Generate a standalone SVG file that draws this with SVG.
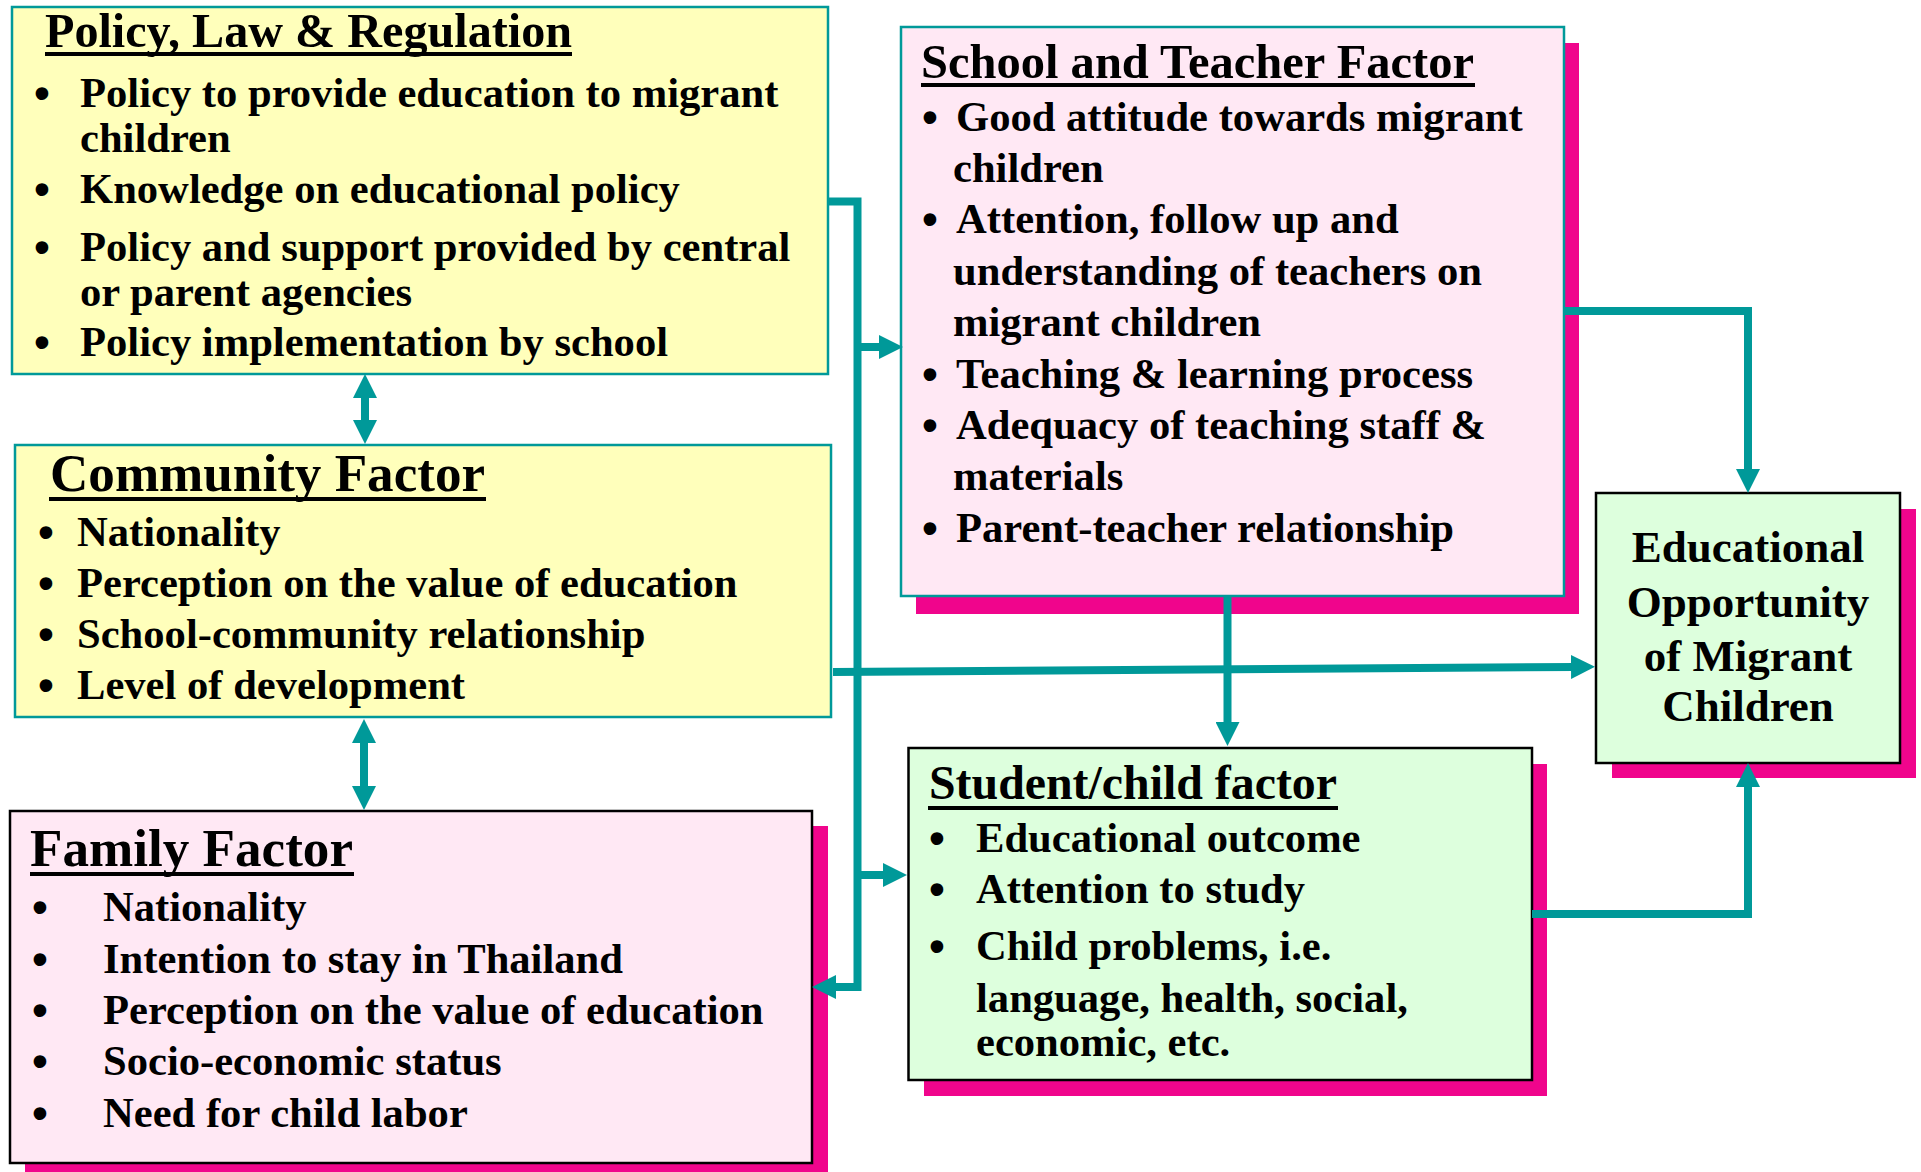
<svg xmlns="http://www.w3.org/2000/svg" width="1921" height="1172" viewBox="0 0 1921 1172">
<style>
text{font-family:"Liberation Serif","Times New Roman",serif;font-weight:bold;fill:#000}
.b{font-size:42.6px}
.bul{font-size:44px;text-anchor:middle;font-family:"Liberation Sans",Arial,sans-serif}
.t48{font-size:48px}
.t53{font-size:53px}
.edu{font-size:45px;text-anchor:middle}
.yel{fill:#FFFFBB;stroke:#009999;stroke-width:2.5}
.pinkT{fill:#FFE8F4;stroke:#009999;stroke-width:2.5}
.pinkK{fill:#FFE8F4;stroke:#000;stroke-width:2.5}
.grn{fill:#DDFFDD;stroke:#000;stroke-width:2.5}
.sh{fill:#F0058C}
.ul{stroke:#000;stroke-width:4}
.c{fill:none;stroke:#009999;stroke-width:8}
</style>
<defs>
<marker id="ah" markerUnits="userSpaceOnUse" markerWidth="24" markerHeight="24" refX="4" refY="12" orient="auto-start-reverse" viewBox="0 0 24 24">
<path d="M0,0 L24,12 L0,24 z" fill="#009999"/>
</marker>
</defs>
<rect width="1921" height="1172" fill="#fff"/>

<g id="policy">
<rect class="yel" x="12" y="7" width="816" height="367"/>
<text class="t48" x="45" y="47" textLength="527" lengthAdjust="spacingAndGlyphs">Policy, Law &amp; Regulation</text>
<line class="ul" x1="45" y1="54" x2="572" y2="54"/>
<text class="bul" x="42" y="108">•</text>
<text class="b" x="80" y="107">Policy to provide education to migrant</text>
<text class="b" x="80" y="152">children</text>
<text class="bul" x="42" y="204">•</text>
<text class="b" x="80" y="203">Knowledge on educational policy</text>
<text class="bul" x="42" y="262">•</text>
<text class="b" x="80" y="261">Policy and support provided by central</text>
<text class="b" x="80" y="306">or parent agencies</text>
<text class="bul" x="42" y="357">•</text>
<text class="b" x="80" y="356">Policy implementation by school</text>
</g>

<g id="community">
<rect class="yel" x="15" y="445" width="816" height="272"/>
<text class="t53" x="50" y="491" textLength="435" lengthAdjust="spacingAndGlyphs">Community Factor</text>
<line class="ul" x1="49" y1="499" x2="486" y2="499"/>
<text class="bul" x="46" y="547">•</text>
<text class="b" x="77" y="546">Nationality</text>
<text class="bul" x="46" y="598">•</text>
<text class="b" x="77" y="597">Perception on the value of education</text>
<text class="bul" x="46" y="649">•</text>
<text class="b" x="77" y="648">School-community relationship</text>
<text class="bul" x="46" y="700">•</text>
<text class="b" x="77" y="699">Level of development</text>
</g>

<g id="family">
<rect class="sh" x="25" y="826" width="803" height="352"/>
<rect class="pinkK" x="10" y="811" width="802" height="352"/>
<text class="t53" x="30" y="866" textLength="323" lengthAdjust="spacingAndGlyphs">Family Factor</text>
<line class="ul" x1="30" y1="874" x2="354" y2="874"/>
<text class="bul" x="40" y="922">•</text>
<text class="b" x="103" y="921">Nationality</text>
<text class="bul" x="40" y="974">•</text>
<text class="b" x="103" y="973">Intention to stay in Thailand</text>
<text class="bul" x="40" y="1025">•</text>
<text class="b" x="103" y="1024">Perception on the value of education</text>
<text class="bul" x="40" y="1076">•</text>
<text class="b" x="103" y="1075">Socio-economic status</text>
<text class="bul" x="40" y="1128">•</text>
<text class="b" x="103" y="1127">Need for child labor</text>
</g>

<g id="school">
<rect class="sh" x="916" y="43" width="663" height="571"/>
<rect class="pinkT" x="901" y="27" width="663" height="569"/>
<text class="t48" x="921" y="78" textLength="553" lengthAdjust="spacingAndGlyphs">School and Teacher Factor</text>
<line class="ul" x1="921" y1="85" x2="1475" y2="85"/>
<text class="bul" x="930" y="132">•</text>
<text class="b" x="956" y="131">Good attitude towards migrant</text>
<text class="b" x="953" y="182">children</text>
<text class="bul" x="930" y="234">•</text>
<text class="b" x="956" y="233">Attention, follow up and</text>
<text class="b" x="953" y="285">understanding of teachers on</text>
<text class="b" x="953" y="336">migrant children</text>
<text class="bul" x="930" y="389">•</text>
<text class="b" x="956" y="388">Teaching &amp; learning process</text>
<text class="bul" x="930" y="440">•</text>
<text class="b" x="956" y="439">Adequacy of teaching staff &amp;</text>
<text class="b" x="953" y="490">materials</text>
<text class="bul" x="930" y="543">•</text>
<text class="b" x="956" y="542">Parent-teacher relationship</text>
</g>

<g id="student">
<rect class="sh" x="924" y="764" width="623" height="332"/>
<rect class="grn" x="908.5" y="748" width="623.5" height="332"/>
<text class="t48" x="929" y="799" textLength="408" lengthAdjust="spacingAndGlyphs">Student/child factor</text>
<line class="ul" x1="928" y1="808" x2="1338" y2="808"/>
<text class="bul" x="937" y="853">•</text>
<text class="b" x="976" y="852">Educational outcome</text>
<text class="bul" x="937" y="904">•</text>
<text class="b" x="976" y="903">Attention to study</text>
<text class="bul" x="937" y="961">•</text>
<text class="b" x="976" y="960">Child problems, i.e.</text>
<text class="b" x="976" y="1012">language, health, social,</text>
<text class="b" x="976" y="1056">economic, etc.</text>
</g>

<g id="outcome">
<rect class="sh" x="1612" y="509" width="304" height="269"/>
<rect class="grn" x="1596" y="493" width="304" height="270"/>
<text class="edu" x="1748" y="562">Educational</text>
<text class="edu" x="1748" y="617">Opportunity</text>
<text class="edu" x="1748" y="671">of Migrant</text>
<text class="edu" x="1748" y="721">Children</text>
</g>

<g id="connectors">
<path class="c" d="M828,201.5 H857.5 V987 H832" marker-end="url(#ah)"/>
<path class="c" d="M857.5,347 H883" marker-end="url(#ah)"/>
<path class="c" d="M857.5,875 H887" marker-end="url(#ah)"/>
<path class="c" d="M833,672 L1575,667" marker-end="url(#ah)"/>
<path class="c" d="M1564,311 H1748 V473" marker-end="url(#ah)"/>
<path class="c" d="M1227.5,597 V726" marker-end="url(#ah)"/>
<path class="c" d="M1532,914 H1748 V783" marker-end="url(#ah)"/>
<path class="c" d="M365,394 V424" marker-start="url(#ah)" marker-end="url(#ah)"/>
<path class="c" d="M364,739 V790" marker-start="url(#ah)" marker-end="url(#ah)"/>
</g>
</svg>
